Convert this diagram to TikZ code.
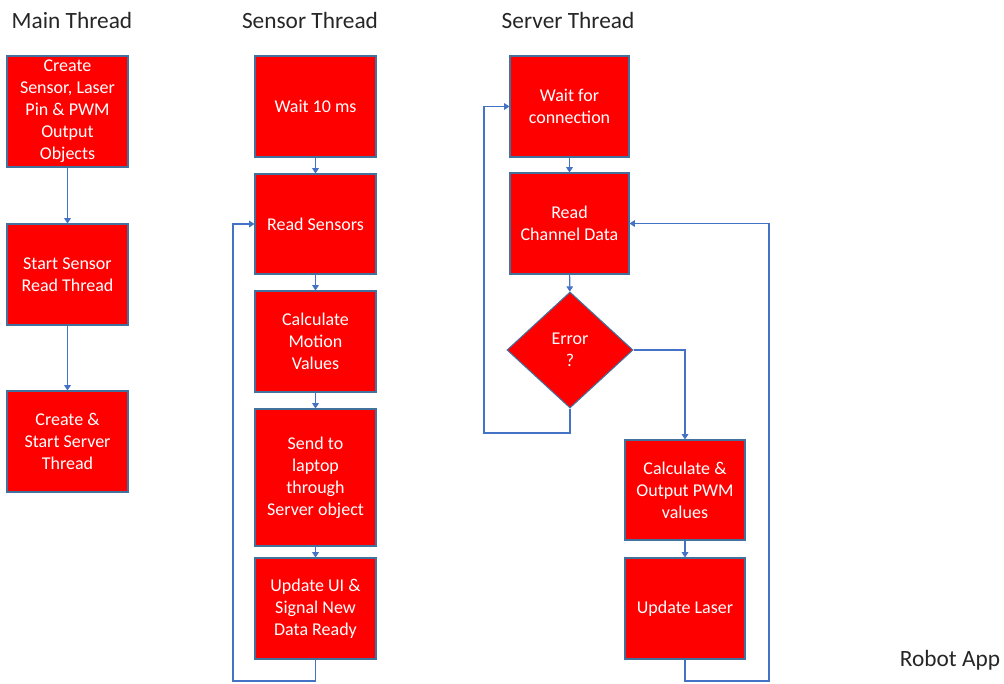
\documentclass[tikz,border=0pt]{standalone}
\usepackage{fontspec}
\setmainfont{Carlito}
\usetikzlibrary{shapes.geometric,arrows.meta}
\definecolor{boxred}{HTML}{FF0000}
\definecolor{boxedge}{HTML}{41719C}
\definecolor{flowblue}{HTML}{4472C4}
\definecolor{titlegray}{HTML}{262626}
\begin{document}
\begin{tikzpicture}[x=0.75pt, y=-0.75pt,
  step box/.style={draw=boxedge, line width=0.8pt, fill=boxred, text=white,
    align=center, font=\fontsize{13.5}{16.5}\selectfont, inner sep=2pt,
    minimum width=90.75pt, minimum height=75.75pt},
  test box/.style={diamond, draw=boxedge, line width=0.8pt, fill=boxred, text=white,
    align=center, font=\fontsize{13.5}{16.5}\selectfont, inner sep=0pt,
    minimum width=94.5pt, minimum height=87pt},
  title/.style={text=titlegray, font=\fontsize{17.5}{20}\selectfont},
  flow/.style={draw=flowblue, line width=0.8pt, -{Triangle[width=5pt,length=4pt]}}]
\useasboundingbox (0,0) rectangle (1004,683);
\node[title] (tmain) at (72,20) {Main Thread};
\node[title] (tsensor) at (310,20) {Sensor Thread};
\node[title] (tserver) at (568,20) {Server Thread};
\node[title] (robot) at (950,660) {Robot App};

\node[step box, minimum height=83.25pt] (m1) at (67.5,111.5) {Create\\Sensor, Laser\\Pin \& PWM\\Output\\Objects};
\node[step box] (m2) at (67.5,274.5) {Start Sensor\\Read Thread};
\node[step box] (m3) at (67.5,441.5) {Create \&\\Start Server\\Thread};

\node[step box] (s1) at (315.5,106.5) {Wait 10 ms};
\node[step box, minimum height=75pt] (s2) at (315.5,224) {Read Sensors};
\node[step box] (s3) at (315.5,341.5) {Calculate\\Motion\\Values};
\node[step box, minimum height=102.75pt] (s4) at (315.5,477.5) {Send to\\laptop\\through\\Server object};
\node[step box] (s5) at (315.5,608.5) {Update UI \&\\Signal New\\Data Ready};

\node[step box, minimum width=89.25pt] (v1) at (569.5,106.5) {Wait for\\connection};
\node[step box, minimum width=89.25pt] (v2) at (569.5,223.5) {Read\\Channel Data};
\node[test box] (err) at (570,350) {Error\\?};
\node[step box, minimum width=90pt, minimum height=75pt] (v3) at (685,490) {Calculate \&\\Output PWM\\values};
\node[step box, minimum width=90pt] (v4) at (685,608.5) {Update Laser};

\coordinate (sloop) at (233,681);
\coordinate (eloop) at (484,433);
\coordinate (rloop) at (769,681);

\draw[flow] (m1) -- (m2);
\draw[flow] (m2) -- (m3);
\draw[flow] (s1) -- (s2);
\draw[flow] (s2) -- (s3);
\draw[flow] (s3) -- (s4);
\draw[flow] (s4) -- (s5);
\draw[flow] (s5.south) |- (sloop) |- (s2.west);
\draw[flow] (v1) -- (v2);
\draw[flow] (v2) -- (err);
\draw[flow] (err.south) |- (eloop) |- (v1.west);
\draw[flow] (err.east) -| (v3.north);
\draw[flow] (v3) -- (v4);
\draw[flow] (v4.south) |- (rloop) |- (v2.east);
\end{tikzpicture}
\end{document}
